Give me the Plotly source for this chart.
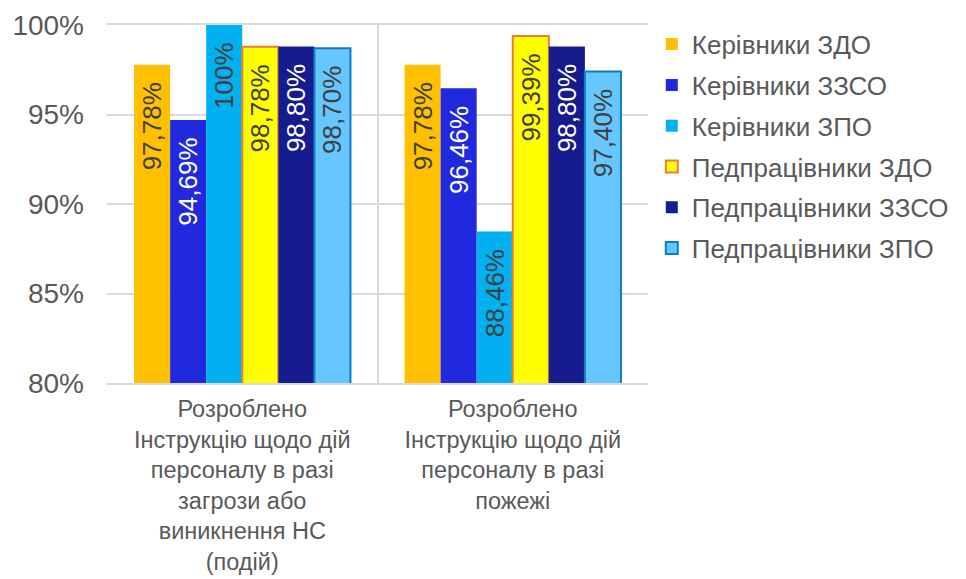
import plotly.graph_objects as go

categories = [
    "Розроблено<br>Інструкцію щодо дій<br>персоналу в разі<br>загрози або<br>виникнення НС<br>(подій)",
    "Розроблено<br>Інструкцію щодо дій<br>персоналу в разі<br>пожежі",
]

series_names = [
    "Керівники ЗДО",
    "Керівники ЗЗСО",
    "Керівники ЗПО",
    "Педпрацівники ЗДО",
    "Педпрацівники ЗЗСО",
    "Педпрацівники ЗПО",
]

kerivnyky_zdo = [0.9778, 0.9778]
kerivnyky_zzso = [0.9469, 0.9646]
kerivnyky_zpo = [1.0, 0.8846]
pedprac_zdo = [0.9878, 0.9939]
pedprac_zzso = [0.9880, 0.9880]
pedprac_zpo = [0.9870, 0.9740]

series_values = [
    kerivnyky_zdo,
    kerivnyky_zzso,
    kerivnyky_zpo,
    pedprac_zdo,
    pedprac_zzso,
    pedprac_zpo,
]

FILL = ["#FFC000", "#2129DE", "#00B0F0", "#FFFF00", "#161C8E", "#66C7FF"]
BORDER = [None, None, None, "#ED7D31", None, "#0E7CC4"]
TEXT_COLOR = ["#404040", "#FFFFFF", "#404040", "#404040", "#FFFFFF", "#404040"]
GRAY = "#595959"
FONT = "Arial, Liberation Sans"


def pct_label(v):
    s = f"{v * 100:.2f}"
    if s.endswith(".00"):
        s = s[:-3]
    # trailing spaces keep the rotated label a little below the bar top
    return s.replace(".", ",") + "%\u00a0\u00a0"


fig = go.Figure()
for i, (name, vals) in enumerate(zip(series_names, series_values)):
    fig.add_trace(
        go.Bar(
            x=categories,
            y=vals,
            name=name,
            legendgroup=name,
            marker=dict(
                color=FILL[i],
                line=dict(color=BORDER[i] or FILL[i], width=2 if BORDER[i] else 0),
            ),
            text=[pct_label(v) for v in vals],
            textposition="inside",
            insidetextanchor="end",
            textangle=-90,
            textfont=dict(color=TEXT_COLOR[i], size=26, family=FONT),
            constraintext="none",
        )
    )

# page body adds an 8px offset, so the figure is sized to the visible area
fig.update_layout(
    width=958,
    height=571,
    paper_bgcolor="white",
    plot_bgcolor="white",
    barmode="group",
    bargap=0.2,
    bargroupgap=0,
    margin=dict(l=99, r=313, t=17, b=196),
    font=dict(family=FONT, color=GRAY),
    legend=dict(
        x=1.007,
        y=1.012,
        xanchor="left",
        yanchor="top",
        font=dict(size=26, color=GRAY),
        tracegroupgap=4,
        itemwidth=30,
    ),
)

fig.update_yaxes(
    range=[0.8, 1.0],
    tickvals=[0.8, 0.85, 0.9, 0.95, 1.0],
    tickformat=".0%",
    tickfont=dict(size=28, color=GRAY),
    ticklabelstandoff=22,
    showgrid=True,
    gridcolor="#D9D9D9",
    gridwidth=1.5,
    zeroline=False,
    ticks="",
    automargin=False,
)

fig.update_xaxes(
    tickson="boundaries",
    showgrid=True,
    gridcolor="#D9D9D9",
    gridwidth=1.5,
    tickfont=dict(size=23.5, color=GRAY),
    ticklabelstandoff=4,
    ticks="",
    showline=True,
    linecolor="#D9D9D9",
    linewidth=1.5,
    mirror=True,
    automargin=False,
)

fig.write_html("out.html")
